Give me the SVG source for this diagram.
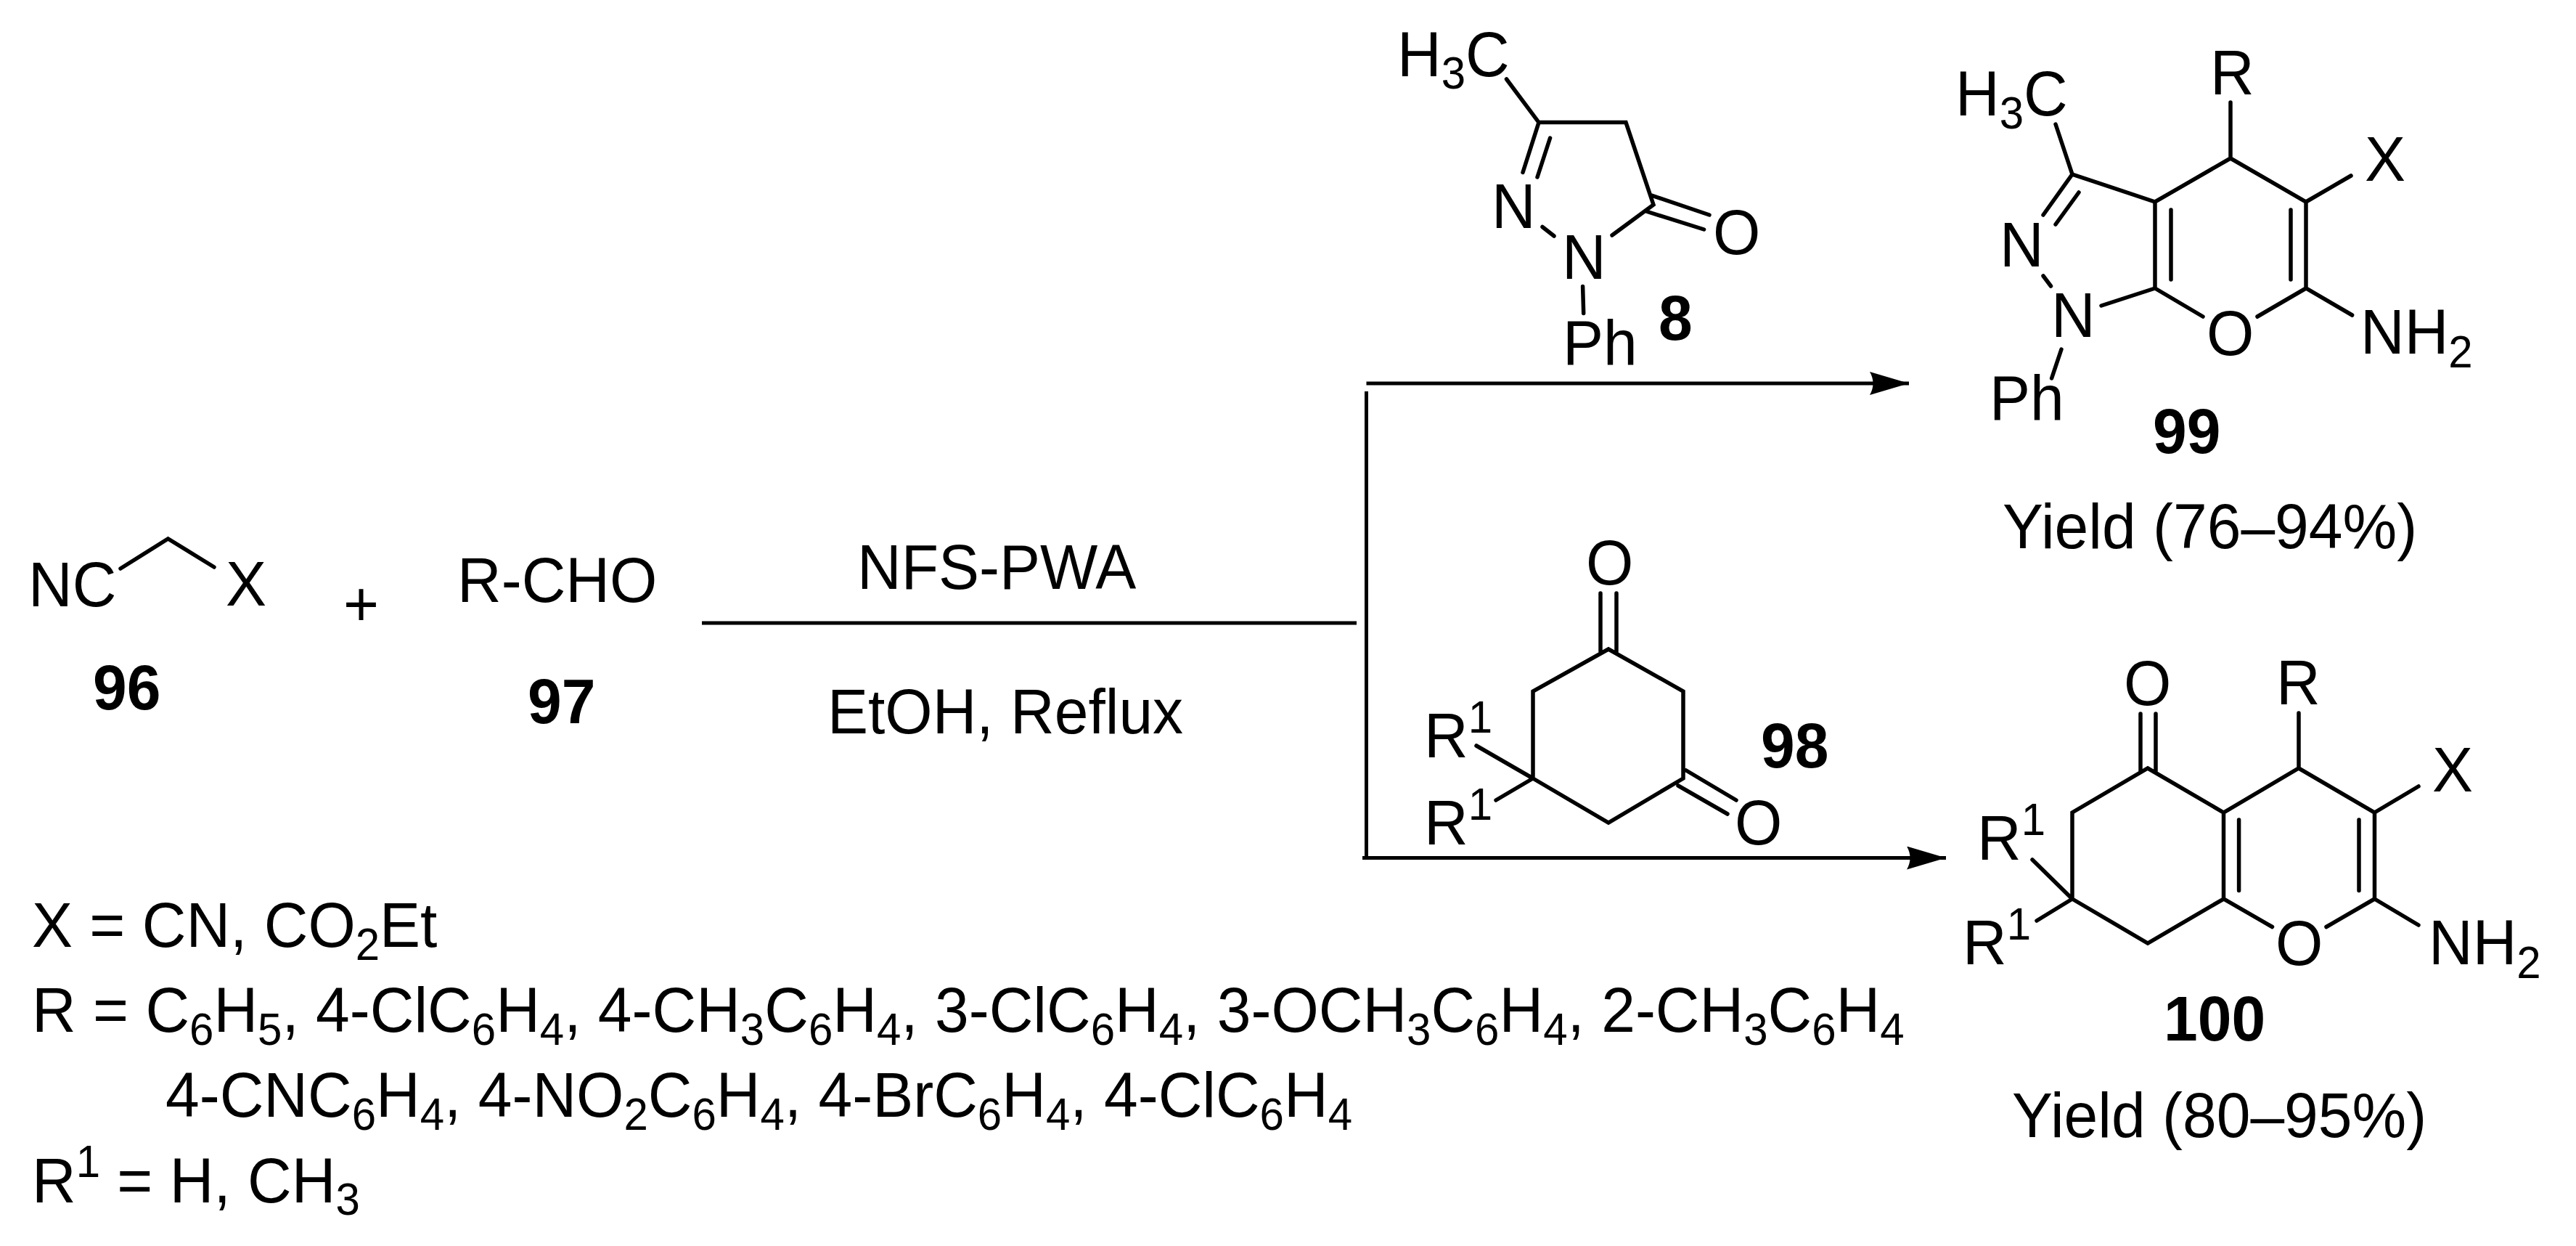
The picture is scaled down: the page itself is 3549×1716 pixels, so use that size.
<svg xmlns="http://www.w3.org/2000/svg" width="3549" height="1716" viewBox="0 0 3549 1716">
<style>
text{font-family:"Liberation Sans",Arial,sans-serif;font-size:84px;fill:#000}
.b{font-weight:bold}
.s{font-size:60px}
.bond{fill:none;stroke:#000;stroke-width:5.5;stroke-linecap:round;stroke-linejoin:miter}
.conn{fill:none;stroke:#000;stroke-width:5}
.head{fill:#000;stroke:none}
</style>
<defs>
<marker id="ah" markerUnits="userSpaceOnUse" markerWidth="54" markerHeight="32" refX="54" refY="16" orient="auto"><path class="head" d="M0 0L54 16L0 32Q9 16 0 0Z"/></marker>
</defs>
<rect width="3549" height="1716" fill="#fff"/>
<g id="connectors">
<path class="conn" d="M967 858H1869"/>
<path class="conn" d="M1882.500 539V1181"/>
<path class="conn" marker-end="url(#ah)" d="M1882.500 528H2630"/>
<path class="conn" marker-end="url(#ah)" d="M1877 1181.500H2681"/>
</g>
<g id="compound-96">
<path class="bond" d="M166 783L231.500 742L295 781"/>
<text transform="matrix(1 0 0 1.04 39 835)">NC</text><text transform="matrix(1 0 0 1.04 311 834)">X</text>
<text class="b" transform="matrix(1 0 0 1.04 128 977)">96</text>
</g>
<g id="plus"><text transform="matrix(1 0 0 1.04 473 862)">+</text></g>
<g id="compound-97">
<text transform="matrix(1 0 0 1.04 630 829)">R-CHO</text>
<text class="b" transform="matrix(1 0 0 1.04 727 996)">97</text>
</g>
<g id="conditions">
<text transform="matrix(1 0 0 1.04 1181 811)">NFS-PWA</text>
<text transform="matrix(1 0 0 1.04 1140 1010)">EtOH, Reflux</text>
</g>
<g id="compound-8">
<path class="bond" d="M2075.500 109L2120 168.600H2240L2278 282L2221 324M2120 168.600L2098 237.500M2135.600 190L2118 244M2125 312.500L2141 325M2274 268.600L2355 296M2268 291L2347.600 316M2180.600 394.600L2181.700 431.400"/>
<text transform="matrix(1 0 0 1.04 1925 104.600)">H<tspan class="s" dy="17">3</tspan><tspan dy="-17">C</tspan></text>
<text transform="matrix(1 0 0 1.04 2055 314)">N</text><text transform="matrix(1 0 0 1.04 2152 384)">N</text><text transform="matrix(1 0 0 1.04 2360 350)">O</text><text transform="matrix(1 0 0 1.04 2153 502)">Ph</text>
<text class="b" transform="matrix(1 0 0 1.04 2285 468)">8</text>
</g>
<g id="compound-99">
<path class="bond" d="M2832 171L2855 240L2969 278L3073 218L3177 278V397L3240.600 434M3073 141V218M3177 278L3239 242M2969 278V397L3035 436M3177 397L3110 436M2991 289V385M3156 289V385M2855 240L2815 296M2864 265L2832 309M2815 380L2825.500 394M2895 421L2969 397M2840 481L2826.600 521"/>
<text transform="matrix(1 0 0 1.04 2694 159)">H<tspan class="s" dy="17">3</tspan><tspan dy="-17">C</tspan></text>
<text transform="matrix(1 0 0 1.04 3045 130)">R</text><text transform="matrix(1 0 0 1.04 3258 249)">X</text><text transform="matrix(1 0 0 1.04 2755 367)">N</text><text transform="matrix(1 0 0 1.04 2826 464)">N</text><text transform="matrix(1 0 0 1.04 3040 489)">O</text>
<text transform="matrix(1 0 0 1.04 3252 487)">NH<tspan class="s" dy="18">2</tspan></text>
<text transform="matrix(1 0 0 1.04 2741 577.500)">Ph</text>
<text class="b" transform="matrix(1 0 0 1.04 2966 624)">99</text>
<text transform="matrix(1 0 0 1.04 2759 755)">Yield (76–94%)</text>
</g>
<g id="compound-98">
<path class="bond" d="M2216 894L2112 952V1072L2216 1133L2319 1072V952ZM2205 817V897M2227 817V897M2323 1061L2392 1102M2312 1082L2380 1121M2034 1027L2112 1072M2061 1102L2112 1072"/>
<text transform="matrix(1 0 0 1.04 2185 805)">O</text><text transform="matrix(1 0 0 1.04 2390 1163)">O</text>
<text transform="matrix(1 0 0 1.04 1962 1043)">R<tspan class="s" dy="-33">1</tspan></text>
<text transform="matrix(1 0 0 1.04 1962 1163)">R<tspan class="s" dy="-33">1</tspan></text>
<text class="b" transform="matrix(1 0 0 1.04 2426 1057)">98</text>
</g>
<g id="compound-100">
<path class="bond" d="M2855 1238V1119L2959 1058L3063.500 1119L3167 1058L3271.500 1119V1238L3332 1274M3167 982V1058M3271.500 1119L3332 1083M2949 983V1063M2970 983V1063M3063.500 1119V1238L3130.500 1276.500M3271.500 1238L3205 1276.500M3084.600 1129V1226.500M3250 1129V1226.500M2855 1238L2959 1299L3063.500 1238M2800 1184L2855 1238M2806 1268L2855 1238"/>
<text transform="matrix(1 0 0 1.04 2926 971)">O</text><text transform="matrix(1 0 0 1.04 3136 970)">R</text><text transform="matrix(1 0 0 1.04 3351 1090)">X</text><text transform="matrix(1 0 0 1.04 3135 1329)">O</text>
<text transform="matrix(1 0 0 1.04 3346 1328)">NH<tspan class="s" dy="18">2</tspan></text>
<text transform="matrix(1 0 0 1.04 2724 1184)">R<tspan class="s" dy="-33">1</tspan></text>
<text transform="matrix(1 0 0 1.04 2704 1328)">R<tspan class="s" dy="-33">1</tspan></text>
<text class="b" transform="matrix(1 0 0 1.04 2981 1433)">100</text>
<text transform="matrix(1 0 0 1.04 2772 1566)">Yield (80–95%)</text>
</g>
<g id="substituents">
<text transform="matrix(1 0 0 1.04 44 1304)">X = CN, CO<tspan class="s" dy="17">2</tspan><tspan dy="-17">Et</tspan></text>
<text transform="matrix(1 0 0 1.04 44 1421)">R = C<tspan class="s" dy="17">6</tspan><tspan dy="-17">H</tspan><tspan class="s" dy="17">5</tspan><tspan dy="-17">, 4-ClC</tspan><tspan class="s" dy="17">6</tspan><tspan dy="-17">H</tspan><tspan class="s" dy="17">4</tspan><tspan dy="-17">, 4-CH</tspan><tspan class="s" dy="17">3</tspan><tspan dy="-17">C</tspan><tspan class="s" dy="17">6</tspan><tspan dy="-17">H</tspan><tspan class="s" dy="17">4</tspan><tspan dy="-17">, 3-ClC</tspan><tspan class="s" dy="17">6</tspan><tspan dy="-17">H</tspan><tspan class="s" dy="17">4</tspan><tspan dy="-17">, 3-OCH</tspan><tspan class="s" dy="17">3</tspan><tspan dy="-17">C</tspan><tspan class="s" dy="17">6</tspan><tspan dy="-17">H</tspan><tspan class="s" dy="17">4</tspan><tspan dy="-17">, 2-CH</tspan><tspan class="s" dy="17">3</tspan><tspan dy="-17">C</tspan><tspan class="s" dy="17">6</tspan><tspan dy="-17">H</tspan><tspan class="s" dy="17">4</tspan></text>
<text transform="matrix(1 0 0 1.04 228 1538)">4-CNC<tspan class="s" dy="17">6</tspan><tspan dy="-17">H</tspan><tspan class="s" dy="17">4</tspan><tspan dy="-17">, 4-NO</tspan><tspan class="s" dy="17">2</tspan><tspan dy="-17">C</tspan><tspan class="s" dy="17">6</tspan><tspan dy="-17">H</tspan><tspan class="s" dy="17">4</tspan><tspan dy="-17">, 4-BrC</tspan><tspan class="s" dy="17">6</tspan><tspan dy="-17">H</tspan><tspan class="s" dy="17">4</tspan><tspan dy="-17">, 4-ClC</tspan><tspan class="s" dy="17">6</tspan><tspan dy="-17">H</tspan><tspan class="s" dy="17">4</tspan></text>
<text transform="matrix(1 0 0 1.04 44 1655.700)">R<tspan class="s" dy="-33">1</tspan><tspan dy="33"> = H, CH</tspan><tspan class="s" dy="17">3</tspan></text>
</g>
</svg>
